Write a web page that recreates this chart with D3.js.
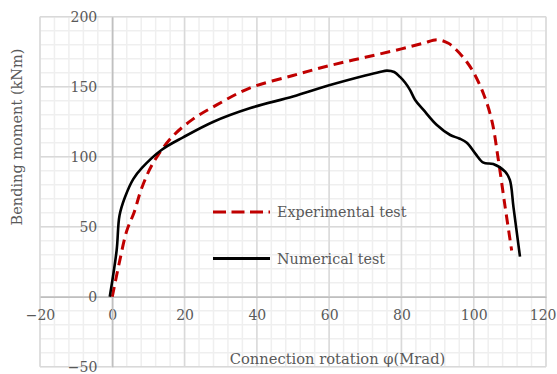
<!DOCTYPE html>
<html>
<head>
<meta charset="utf-8">
<script src="https://cdn.jsdelivr.net/npm/d3@7"></script>
<style>
  html, body { margin: 0; padding: 0; background: #fff; }
  svg { display: block; }
  text { font-family: "DejaVu Serif", "Liberation Serif", serif; fill: #595959; }
</style>
</head>
<body>
<svg id="chart" width="557" height="374"></svg>
<script>
// ---- data ----
const expX = [0, 2, 4, 6, 8.2, 11.4, 16.5, 22.4, 28.9, 38, 50, 60, 70, 80, 86, 90, 93, 95.3, 98, 100, 102.7, 105, 106.8, 108.7, 110.5];
const expY = [0, 25, 47, 60, 78, 96, 114, 127, 137, 149, 158, 165, 171, 177, 181, 183.5, 181, 176, 168, 160, 145, 126, 98, 64, 33];
const numX = [-0.7, 1.2, 2, 3.5, 5.8, 8.2, 13.7, 19.7, 28, 38, 50, 60, 70, 74, 76, 78, 79.6, 81, 82.4, 83.8, 86.1, 89.8, 93.5, 96, 98.1, 100.4, 102.7, 105.4, 108.7, 110, 111, 112.8];
const numY = [0, 33, 58, 71, 84, 92, 105, 114, 125, 134.6, 143, 151, 158, 160.5, 161.5, 160.5, 157, 153, 147.6, 140.5, 133.4, 122.6, 115.5, 113, 110, 102.4, 95.7, 94.8, 89.3, 83.4, 64, 28.6];
const xTicks = [-20, 0, 20, 40, 60, 80, 100, 120];
const yTicks = [-50, 0, 50, 100, 150, 200];
const seriesNames = ["Experimental test", "Numerical test"];
const xTitle = "Connection rotation \u03c6(Mrad)";
const yTitle = "Bending moment (kNm)";

// ---- layout ----
const svg = d3.select("#chart");
const x = d3.scaleLinear().domain([-20, 120]).range([40, 546]);
const y = d3.scaleLinear().domain([-50, 200]).range([366.7, 16.7]);

const grid = svg.append("g");
// minor gridlines
grid.selectAll(".mx").data(d3.range(-20, 120.1, 4)).join("line")
  .attr("x1", d => x(d)).attr("x2", d => x(d)).attr("y1", y(-50)).attr("y2", y(200))
  .attr("stroke", "#efefef").attr("stroke-width", 1.5);
grid.selectAll(".my").data(d3.range(-50, 200.1, 10)).join("line")
  .attr("y1", d => y(d)).attr("y2", d => y(d)).attr("x1", x(-20)).attr("x2", x(120))
  .attr("stroke", "#efefef").attr("stroke-width", 1.5);
// major gridlines
grid.selectAll(".Mx").data(xTicks).join("line")
  .attr("x1", d => x(d)).attr("x2", d => x(d)).attr("y1", y(-50)).attr("y2", y(200))
  .attr("stroke", "#d9d9d9").attr("stroke-width", 1.5);
grid.selectAll(".My").data(yTicks).join("line")
  .attr("y1", d => y(d)).attr("y2", d => y(d)).attr("x1", x(-20)).attr("x2", x(120))
  .attr("stroke", "#d9d9d9").attr("stroke-width", 1.5);

// axes through zero
const xAxis = d3.axisBottom(x).tickValues(xTicks).tickSize(0).tickPadding(13);
const yAxis = d3.axisLeft(y).tickValues(yTicks).tickSize(0).tickPadding(15);
const gx = svg.append("g").attr("transform", `translate(0,${y(0)})`).call(xAxis);
const gy = svg.append("g").attr("transform", `translate(${x(0)},0)`).call(yAxis);
[gx, gy].forEach(g => {
  g.select(".domain").attr("stroke", "#bfbfbf").attr("stroke-width", 1.5);
  g.selectAll("text").style("font-family", "DejaVu Serif").style("font-size", "14px").attr("fill", "#595959");
});
// keep the last x label inside the canvas, as in the reference
gx.selectAll(".tick").filter(d => d === 120).select("text")
  .attr("text-anchor", "end").attr("x", 556 - x(120));

// series
const line = d3.line().x(d => x(d[0])).y(d => y(d[1])).curve(d3.curveCatmullRom.alpha(0.5));
const expData = expX.map((v, i) => [v, expY[i]]);
const numData = numX.map((v, i) => [v, numY[i]]);
svg.append("path").datum(expData).attr("d", line)
  .attr("fill", "none").attr("stroke", "#c00000").attr("stroke-width", 3)
  .attr("stroke-dasharray", "10,6");
svg.append("path").datum(numData).attr("d", line)
  .attr("fill", "none").attr("stroke", "#000").attr("stroke-width", 2.6)
  .attr("stroke-linejoin", "round");

// legend
const leg = svg.append("g");
const legY = [212, 258.5];
leg.append("line").attr("x1", 213).attr("x2", 270).attr("y1", legY[0]).attr("y2", legY[0])
  .attr("stroke", "#c00000").attr("stroke-width", 3).attr("stroke-dasharray", "13,5.5");
leg.append("line").attr("x1", 213).attr("x2", 270).attr("y1", legY[1]).attr("y2", legY[1])
  .attr("stroke", "#000").attr("stroke-width", 3);
leg.selectAll("text").data(seriesNames).join("text")
  .attr("x", 277).attr("y", (d, i) => legY[i]).attr("dy", "0.35em")
  .style("font-size", "14.3px").text(d => d);

// titles
svg.append("text").attr("x", 337.5).attr("y", 364).attr("text-anchor", "middle")
  .style("font-size", "14.7px").text(xTitle);
svg.append("text").attr("transform", "translate(22,137) rotate(-90)").attr("text-anchor", "middle")
  .style("font-size", "14.5px").text(yTitle);
</script>
</body>
</html>
